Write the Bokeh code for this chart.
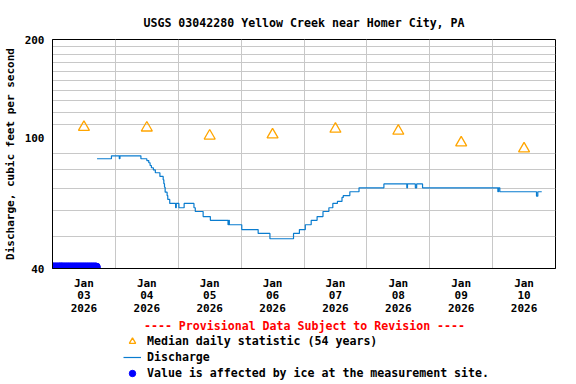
import pandas as pd
from bokeh.plotting import figure
from bokeh.layouts import column
from bokeh.models import (FixedTicker, DatetimeTickFormatter, Legend, LegendItem,
                          Range1d, NumeralTickFormatter)
from bokeh.embed import file_html
from bokeh.resources import INLINE

# ---------------- data ----------------
title_text = "USGS 03042280 Yellow Creek near Homer City, PA"
y_label = "Discharge, cubic feet per second"
header_text = "---- Provisional Data Subject to Revision ----"
legend_labels = ["Median daily statistic (54 years)", "Discharge",
                 "Value is affected by ice at the measurement site."]

median_days = ["2026-01-03 12:00", "2026-01-04 12:00", "2026-01-05 12:00", "2026-01-06 12:00",
               "2026-01-07 12:00", "2026-01-08 12:00", "2026-01-09 12:00", "2026-01-10 12:00"]
median_values = [108, 107.5, 101.6, 102.4, 106.6, 105.1, 96.8, 92.8]

q_times = ["2026-01-03 17:00", "2026-01-03 22:30", "2026-01-04 01:30", "2026-01-04 01:45",
           "2026-01-04 09:45", "2026-01-04 12:00", "2026-01-04 12:45", "2026-01-04 13:15",
           "2026-01-04 13:45", "2026-01-04 14:30", "2026-01-04 15:15", "2026-01-04 17:00",
           "2026-01-04 18:15", "2026-01-04 18:30", "2026-01-04 18:45", "2026-01-04 19:00",
           "2026-01-04 19:45", "2026-01-04 20:00", "2026-01-04 20:45", "2026-01-04 23:00",
           "2026-01-04 23:15", "2026-01-05 00:15", "2026-01-05 02:15", "2026-01-05 06:00",
           "2026-01-05 06:30", "2026-01-05 09:30", "2026-01-05 12:15", "2026-01-05 19:00",
           "2026-01-05 19:15", "2026-01-05 19:30", "2026-01-06 00:15", "2026-01-06 06:30",
           "2026-01-06 11:00", "2026-01-06 20:00", "2026-01-06 22:15", "2026-01-07 00:30",
           "2026-01-07 02:45", "2026-01-07 05:00", "2026-01-07 07:15", "2026-01-07 09:30",
           "2026-01-07 11:00", "2026-01-07 12:45", "2026-01-07 14:30", "2026-01-07 15:00",
           "2026-01-07 17:30", "2026-01-07 21:00", "2026-01-08 06:30", "2026-01-08 15:15",
           "2026-01-08 15:30", "2026-01-08 18:30", "2026-01-08 19:00", "2026-01-08 21:15",
           "2026-01-10 02:00", "2026-01-10 02:15", "2026-01-10 02:45", "2026-01-10 16:45",
           "2026-01-10 17:15", "2026-01-10 18:45"]
q_values = [86.5, 88.3, 86.5, 88.3,
            86.5, 85.4, 84.1, 82.5,
            81.2, 80.0, 78.4, 76.4,
            74.6, 72.6, 70.8, 68.4,
            66.8, 65.0, 63.2, 61.3,
            63.2, 61.3, 63.2, 61.3,
            59.7, 57.6, 56.1, 54.4,
            56.1, 54.4, 52.6, 51.2,
            49.3, 51.2, 52.6, 54.4,
            56.1, 57.6, 59.7, 61.3,
            63.2, 64.1, 65.9, 66.8,
            68.6, 70.5, 72.5, 70.5,
            72.5, 70.5, 72.5, 70.5,
            68.6, 70.5, 68.6, 66.5,
            68.6, 68.6]

ice_start = "2026-01-03 00:00"
ice_end = "2026-01-03 16:45"
ice_value = 40.4

tick_days = ["2026-01-03 12:00", "2026-01-04 12:00", "2026-01-05 12:00", "2026-01-06 12:00",
             "2026-01-07 12:00", "2026-01-08 12:00", "2026-01-09 12:00", "2026-01-10 12:00"]
grid_days = ["2026-01-04", "2026-01-05", "2026-01-06", "2026-01-07",
             "2026-01-08", "2026-01-09", "2026-01-10"]
y_ticks = [40, 100, 200]
y_grid = [50, 60, 70, 80, 90, 110, 120, 130, 140, 150, 160, 170, 180, 190]

# ---------------- styles ----------------
FONT = "DejaVu Sans Mono"
FS_BIG = "11.6px"
FS_SMALL = "11px"
C_Q = "#0a7ccf"
C_MED = "#ffa500"
C_ICE = "#0000ff"

def ms(s):
    return pd.Timestamp(s).value // 10**6

med_x = pd.to_datetime(median_days)
q_x = pd.to_datetime(q_times)
ice_x = pd.date_range(ice_start, ice_end, freq="15min")
ice_y = [ice_value] * len(ice_x)

# ---------------- main chart ----------------
p = figure(frame_width=503, frame_height=229, x_axis_type="datetime", y_axis_type="log",
           x_range=Range1d(pd.Timestamp("2026-01-03"), pd.Timestamp("2026-01-11")),
           y_range=Range1d(40, 200),
           output_backend="svg", toolbar_location=None,
           min_border_left=51, min_border_right=8, min_border_top=39, min_border_bottom=52)

p.outline_line_color = "black"
p.outline_line_width = 1
p.background_fill_color = "white"
p.border_fill_color = "white"

p.title.text = title_text
p.title.align = "center"
p.title.text_font = FONT
p.title.text_font_style = "bold"
p.title.text_font_size = FS_BIG
p.title.text_color = "black"
p.title.standoff = 20

p.xaxis.ticker = FixedTicker(ticks=[ms(t) for t in tick_days])
fmt = "%b\n%d\n%Y"
p.xaxis.formatter = DatetimeTickFormatter(
    microseconds=fmt, milliseconds=fmt, seconds=fmt, minsec=fmt, minutes=fmt,
    hourmin=fmt, hours=fmt, days=fmt, months=fmt, years=fmt)
p.xaxis.major_tick_in = 0
p.xaxis.major_tick_out = 0
p.xaxis.minor_tick_in = 0
p.xaxis.minor_tick_out = 0
p.xaxis.major_label_standoff = 8
p.xaxis.axis_line_color = "black"
p.xaxis.major_label_text_font = FONT
p.xaxis.major_label_text_font_style = "bold"
p.xaxis.major_label_text_font_size = FS_SMALL
p.xaxis.major_label_text_color = "black"
p.xaxis.major_label_text_line_height = 0.98

p.yaxis.ticker = FixedTicker(ticks=y_ticks)
p.yaxis.formatter = NumeralTickFormatter(format="0")
p.yaxis.major_tick_in = 0
p.yaxis.major_tick_out = 0
p.yaxis.minor_tick_in = 0
p.yaxis.minor_tick_out = 0
p.yaxis.major_label_standoff = 8
p.yaxis.axis_line_color = "black"
p.yaxis.major_label_text_font = FONT
p.yaxis.major_label_text_font_style = "bold"
p.yaxis.major_label_text_font_size = FS_SMALL
p.yaxis.major_label_text_color = "black"
p.yaxis.axis_label = y_label
p.yaxis.axis_label_standoff = 5
p.yaxis.axis_label_text_font = FONT
p.yaxis.axis_label_text_font_style = "bold"
p.yaxis.axis_label_text_font_size = FS_SMALL
p.yaxis.axis_label_text_color = "black"

p.xgrid.ticker = FixedTicker(ticks=[ms(t) for t in grid_days])
p.ygrid.ticker = FixedTicker(ticks=y_grid)
for g in (p.xgrid, p.ygrid):
    g.grid_line_color = "#c8c8c8"
    g.grid_line_width = 1

p.step(q_x, q_values, mode="after", line_color=C_Q, line_width=1.2)
p.scatter(med_x, median_values, marker="triangle", size=11,
          fill_color=None, line_color=C_MED, line_width=1.3)
p.scatter(ice_x, ice_y, marker="circle", size=8, fill_color=C_ICE, line_color=C_ICE)

# ---------------- legend strip ----------------
nan = float("nan")
lg = figure(frame_width=503, frame_height=64, x_range=Range1d(0, 1), y_range=Range1d(0, 1),
            output_backend="svg", toolbar_location=None,
            x_axis_location=None, y_axis_location=None,
            min_border_left=51, min_border_right=8, min_border_top=0, min_border_bottom=0)
lg.outline_line_color = None
lg.grid.visible = False
lg.border_fill_color = "white"
lg.background_fill_color = "white"

k_med = lg.scatter([nan], [nan], marker="triangle", size=11,
                   fill_color=None, line_color=C_MED, line_width=1.3)
k_q = lg.line([nan, nan], [nan, nan], line_color=C_Q, line_width=1.2)
k_ice = lg.scatter([nan], [nan], marker="circle", size=8, fill_color=C_ICE, line_color=C_ICE)

NB = "\u00a0"
legend = Legend(items=[
    LegendItem(label=legend_labels[0], renderers=[k_med]),
    LegendItem(label=legend_labels[1], renderers=[k_q]),
    LegendItem(label=legend_labels[2], renderers=[k_ice]),
], location=(71, 3))
legend.title = NB * 3 + header_text
legend.title_text_font = FONT
legend.title_text_font_style = "bold"
legend.title_text_font_size = FS_BIG
legend.title_text_color = "red"
legend.title_standoff = 0
legend.padding = 0
legend.margin = 0
legend.spacing = 0
legend.glyph_width = 18
legend.glyph_height = 16
legend.label_height = 16
legend.label_standoff = 6
legend.border_line_color = None
legend.background_fill_alpha = 0
legend.label_text_font = FONT
legend.label_text_font_style = "bold"
legend.label_text_font_size = FS_BIG
legend.label_text_color = "black"
lg.add_layout(legend)

layout = column(p, lg, spacing=0)
open("out.html", "w").write(file_html(layout, INLINE))
